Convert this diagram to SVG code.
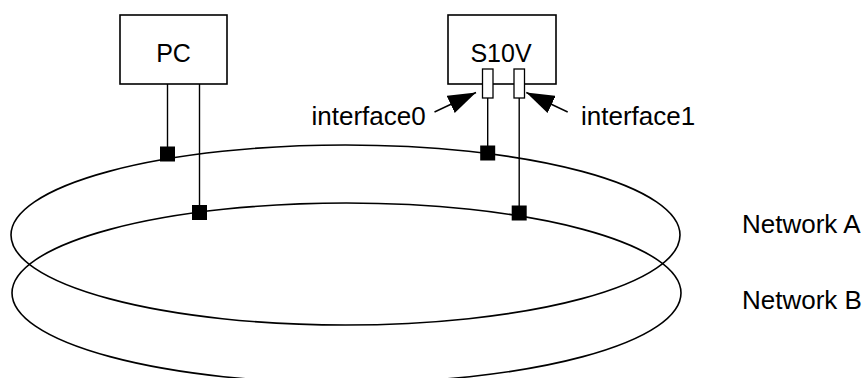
<svg xmlns="http://www.w3.org/2000/svg" width="866" height="378" viewBox="0 0 866 378">
<defs>
<style>
.ln{fill:none;stroke:#000;stroke-width:1.6}
.box{fill:#fff;stroke:#000;stroke-width:1.6}
.port{fill:#fff;stroke:#000;stroke-width:1.3}
.wire{fill:none;stroke:#000;stroke-width:1.4}
.tap{fill:#000}
text{font-family:"Liberation Sans",Arial,sans-serif;font-size:25px;fill:#000}
.lbl{font-size:26px}
</style>
<marker id="ah" markerUnits="userSpaceOnUse" viewBox="0 0 28 19" refX="28" refY="9.5" markerWidth="28" markerHeight="19" orient="auto">
<path d="M0,0 L28,9.5 L0,19 z" fill="#000"/>
</marker>
</defs>
<g id="networkA">
<ellipse class="ln" cx="345.5" cy="235" rx="334.5" ry="90"/>
<text class="lbl" x="742" y="233">Network A</text>
</g>
<g id="networkB">
<ellipse class="ln" cx="346.5" cy="293" rx="334.5" ry="90"/>
<text class="lbl" x="742" y="308.5">Network B</text>
</g>
<g id="connectors">
<line class="wire" x1="167.5" y1="84" x2="167.5" y2="154"/>
<line class="wire" x1="199.5" y1="84" x2="199.5" y2="212.5"/>
<line class="wire" x1="487.7" y1="98" x2="487.7" y2="153"/>
<line class="wire" x1="519.2" y1="98" x2="519.2" y2="213"/>
<line class="wire" x1="434.5" y1="112" x2="476" y2="92.5" marker-end="url(#ah)"/>
<line class="wire" x1="567.7" y1="112" x2="526.3" y2="92.5" marker-end="url(#ah)"/>
<rect class="tap" x="160" y="146.5" width="15" height="15"/>
<rect class="tap" x="192" y="205" width="15" height="15"/>
<rect class="tap" x="480.2" y="145.5" width="15" height="15"/>
<rect class="tap" x="511.7" y="205.5" width="15" height="15"/>
</g>
<g id="pc">
<rect class="box" x="120" y="15" width="107" height="69"/>
<text x="173.5" y="61.5" text-anchor="middle">PC</text>
</g>
<g id="s10v">
<rect class="box" x="448" y="15" width="108" height="69"/>
<text x="501" y="61.5" text-anchor="middle">S10V</text>
<rect class="port" x="482.5" y="69" width="10.5" height="29"/>
<rect class="port" x="514" y="69" width="10.5" height="29"/>
</g>
<g id="interface0">
<text class="lbl" x="311.5" y="125">interface0</text>
</g>
<g id="interface1">
<text class="lbl" x="581" y="125">interface1</text>
</g>
</svg>
